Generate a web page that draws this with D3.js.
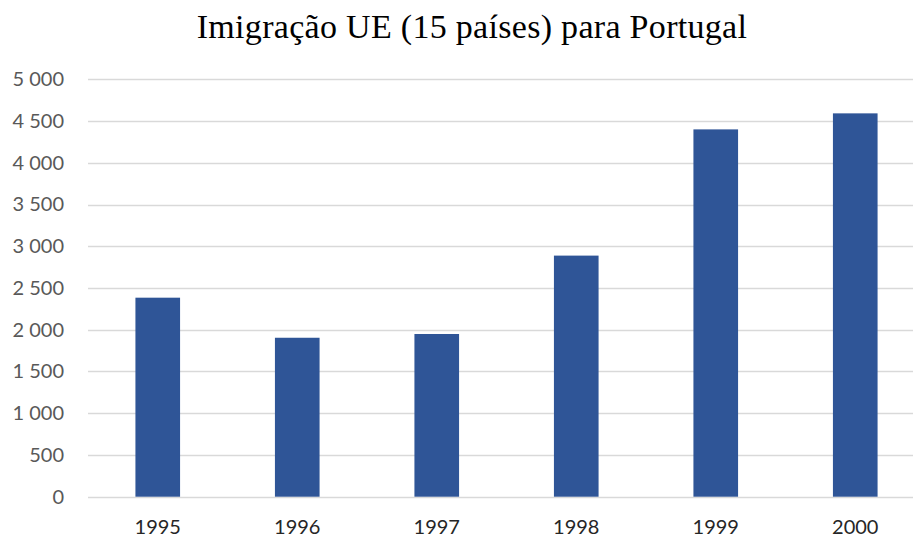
<!DOCTYPE html>
<html>
<head>
<meta charset="utf-8">
<script src="https://cdn.jsdelivr.net/npm/d3@7"></script>
<style>
  body { margin: 0; background: #fff; }
  .chart { width: 913px; height: 537px; }
</style>
</head>
<body>
<div class="chart"></div>
<script>
// data
var years = ["1995", "1996", "1997", "1998", "1999", "2000"];
var imigrantes = [2384, 1904, 1949, 2888, 4400, 4592];
var yTicks = [0, 500, 1000, 1500, 2000, 2500, 3000, 3500, 4000, 4500, 5000];
var titulo = "Imigração UE (15 países) para Portugal";

var width = 913, height = 537;

var svg = d3.select(".chart")
    .append("svg")
    .attr("width", width)
    .attr("height", height);

// plot area runs a bit past the right edge in the original
var x = d3.scaleBand()
    .domain(years)
    .range([88, 925])
    .paddingInner(0.68)
    .paddingOuter(0.34);

var y = d3.scaleLinear()
    .domain([0, 5000])
    .range([496.7, 79.3]);

var fmt = function (d) { return d3.format(",")(d).replace(/,/g, " "); };

// gridlines
svg.append("g")
    .selectAll("line")
    .data(yTicks)
    .enter()
    .append("line")
    .attr("x1", 88)
    .attr("x2", 925)
    .attr("y1", function (d) { return Math.round(y(d)) + 0.5; })
    .attr("y2", function (d) { return Math.round(y(d)) + 0.5; })
    .style("stroke", "#d9d9d9")
    .style("stroke-width", 1.5);

// y axis labels
var yAxis = d3.axisLeft(y).tickValues(yTicks).tickFormat(fmt).tickSize(0).tickPadding(0);
var gy = svg.append("g")
    .attr("transform", "translate(64,0)")
    .call(yAxis);
gy.select(".domain").remove();
gy.selectAll("text")
    .style("font-family", "Lato, 'Open Sans', sans-serif")
    .style("font-size", "20px")
    .style("fill", "#595959");

// bars
svg.append("g")
    .selectAll("rect")
    .data(imigrantes)
    .enter()
    .append("rect")
    .attr("x", function (d, i) { return x(years[i]); })
    .attr("width", x.bandwidth())
    .attr("y", function (d) { return y(d); })
    .attr("height", function (d) { return y(0) - y(d); })
    .style("fill", "#2f5597");

// x axis labels
var xAxis = d3.axisBottom(x).tickSize(0).tickPadding(0);
var gx = svg.append("g")
    .attr("transform", "translate(0,520)")
    .call(xAxis);
gx.select(".domain").remove();
gx.selectAll("text")
    .style("font-family", "Lato, 'Open Sans', sans-serif")
    .style("font-size", "20px")
    .style("fill", "#262626");

// title
svg.append("text")
    .attr("x", 472)
    .attr("y", 38)
    .attr("text-anchor", "middle")
    .style("font-family", "'Liberation Serif', 'DejaVu Serif', serif")
    .style("font-size", "34px")
    .style("letter-spacing", "0.3px")
    .style("fill", "#000")
    .text(titulo);
</script>
</body>
</html>
